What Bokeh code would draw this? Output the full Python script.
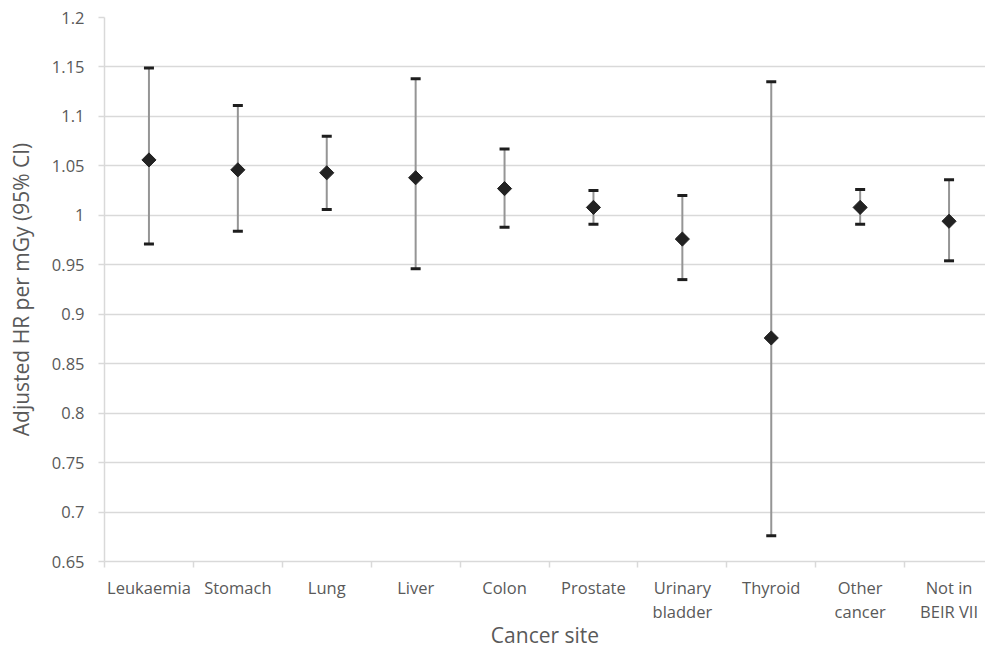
import math
from bokeh.plotting import figure
from bokeh.models import (ColumnDataSource, Whisker, TeeHead, FixedTicker,
                          CustomJSTickFormatter, Range1d)
from bokeh.embed import file_html
from bokeh.resources import INLINE

categories = ["Leukaemia", "Stomach", "Lung", "Liver", "Colon", "Prostate",
              "Urinary\nbladder", "Thyroid", "Other\ncancer", "Not in\nBEIR VII"]
hr = [1.056, 1.046, 1.043, 1.038, 1.027, 1.008, 0.976, 0.876, 1.008, 0.994]
lower = [0.971, 0.984, 1.006, 0.946, 0.988, 0.991, 0.935, 0.676, 0.991, 0.954]
upper = [1.149, 1.111, 1.080, 1.138, 1.067, 1.025, 1.020, 1.135, 1.026, 1.036]
y_ticks = [0.65, 0.7, 0.75, 0.8, 0.85, 0.9, 0.95, 1.0, 1.05, 1.1, 1.15, 1.2]
x_title = "Cancer site"
y_title = "Adjusted HR per mGy (95% CI)"

xs = list(range(len(categories)))
src = ColumnDataSource(dict(x=xs, hr=hr, lower=lower, upper=upper))

FONT = "Open Sans"
TXT = "#595959"
GRID = "#d9d9d9"

p = figure(width=985, height=652, output_backend="svg", toolbar_location=None,
           x_range=Range1d(-0.5, 9.41), y_range=Range1d(0.65, 1.2),
           min_border_left=104, min_border_right=0, min_border_top=17,
           min_border_bottom=91)
p.outline_line_color = None
p.background_fill_color = "white"

# whiskers
w = Whisker(source=src, base="x", lower="lower", upper="upper",
            line_color="#959595", line_width=2,
            upper_head=TeeHead(size=10, line_color="#1e1e1e", line_width=3),
            lower_head=TeeHead(size=10, line_color="#1e1e1e", line_width=3))
p.add_layout(w)

p.scatter("x", "hr", source=src, marker="square", size=10, angle=math.pi / 4,
          fill_color="#222222", line_color="#222222")

# y axis
p.yaxis.ticker = FixedTicker(ticks=y_ticks)
p.yaxis.formatter = CustomJSTickFormatter(code="return (Math.round(tick*100)/100).toString();")
p.yaxis.axis_line_color = GRID
p.yaxis.axis_line_width = 1.5
p.yaxis.major_tick_line_color = GRID
p.yaxis.major_tick_line_width = 1.5
p.yaxis.major_tick_out = 6
p.yaxis.major_tick_in = 0
p.yaxis.minor_tick_line_color = None
p.yaxis.major_label_text_font = FONT
p.yaxis.major_label_text_font_size = "16.5px"
p.yaxis.major_label_text_color = TXT
p.yaxis.major_label_standoff = 14
p.yaxis.axis_label = y_title
p.yaxis.axis_label_text_font = FONT
p.yaxis.axis_label_text_font_size = "21px"
p.yaxis.axis_label_text_font_style = "normal"
p.yaxis.axis_label_text_color = TXT
p.yaxis.axis_label_standoff = 14

# x axis
p.xaxis.ticker = FixedTicker(ticks=xs, minor_ticks=[i - 0.5 for i in range(len(categories) + 1)])
p.xaxis.major_label_overrides = {i: c for i, c in enumerate(categories)}
p.xaxis.axis_line_color = GRID
p.xaxis.axis_line_width = 1.5
p.xaxis.major_tick_line_color = None
p.xaxis.minor_tick_line_color = GRID
p.xaxis.minor_tick_line_width = 1.5
p.xaxis.minor_tick_out = 6
p.xaxis.minor_tick_in = 0
p.xaxis.major_label_text_font = FONT
p.xaxis.major_label_text_font_size = "16.5px"
p.xaxis.major_label_text_line_height = 1.07
p.xaxis.major_label_text_color = TXT
p.xaxis.major_label_standoff = 8
p.xaxis.axis_label = x_title
p.xaxis.axis_label_text_font = FONT
p.xaxis.axis_label_text_font_size = "21px"
p.xaxis.axis_label_text_font_style = "normal"
p.xaxis.axis_label_text_color = TXT
p.xaxis.axis_label_standoff = -5

p.xgrid.grid_line_color = None
p.ygrid.grid_line_color = GRID
p.ygrid.grid_line_width = 1.5

open("out.html", "w").write(file_html(p, INLINE))
